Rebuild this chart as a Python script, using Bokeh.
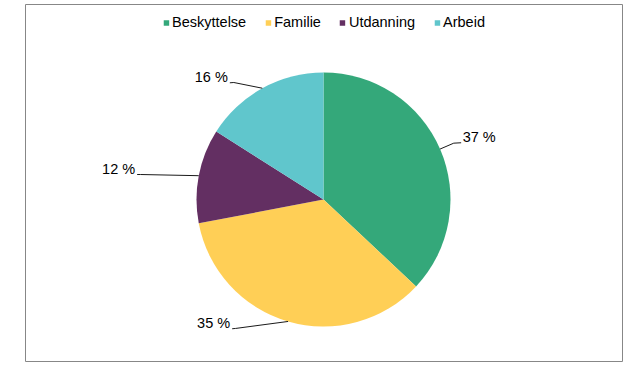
import math
from bokeh.plotting import figure
from bokeh.models import Range1d, ColumnDataSource
from bokeh.core.properties import value
from bokeh.embed import file_html
from bokeh.resources import INLINE

# ---- data ----
categories = ["Beskyttelse", "Familie", "Utdanning", "Arbeid"]
shares = [37, 35, 12, 16]
colors = ["#34A87A", "#FFCF56", "#632F62", "#60C6CC"]

# ---- layout constants (screen px, y down) ----
R = 127
# leader line elbow / end offsets relative to slice edge point
leader_elbow = [(13.7, -5.9), (-52.6, 7.0), (-58.3, -1.2), (-28.5, -5.7)]
leader_end = [(21.1, -6.3), (-55.9, 7.3), (-61.6, -1.2), (-32.5, -5.4)]
LABEL_RAISE = 5.5
FONT = "Liberation Sans"

total = float(sum(shares))
starts, ends, mids = [], [], []
cum = 0.0
for v in shares:
    a0 = cum / total
    cum += v
    a1 = cum / total
    starts.append(math.pi / 2 - 2 * math.pi * a0)
    ends.append(math.pi / 2 - 2 * math.pi * a1)
    mids.append(2 * math.pi * (a0 + a1) / 2)  # clockwise from top

src = ColumnDataSource(dict(name=categories, start=starts, end=ends, color=colors))

p = figure(width=625, height=365,
           x_range=Range1d(-298, 299), y_range=Range1d(-162, 195),
           x_axis_location=None, y_axis_location=None,
           output_backend="svg", toolbar_location=None,
           min_border_left=25, min_border_right=3, min_border_top=4, min_border_bottom=4)
p.grid.visible = False
p.outline_line_color = "#878787"
p.outline_line_width = 1
p.background_fill_color = "white"
p.border_fill_color = "white"

p.wedge(x=0, y=0, radius=R, start_angle="start", end_angle="end", direction="clock",
        fill_color="color", line_color=None, source=src, legend_field="name")

# leader lines and labels
xs, ys = [], []
lx, ly, ltxt, lalign = [], [], [], []
for i, th in enumerate(mids):
    ex, ey = R * math.sin(th), R * math.cos(th)
    bx, by = ex + leader_elbow[i][0], ey - leader_elbow[i][1]
    nx, ny = ex + leader_end[i][0], ey - leader_end[i][1]
    xs.append([ex, bx, nx])
    ys.append([ey, by, ny])
    right = leader_end[i][0] > 0
    lx.append(nx + (1.5 if right else -2.0))
    ly.append(ny + LABEL_RAISE)
    ltxt.append(f"{shares[i]} %")
    lalign.append("left" if right else "right")

p.multi_line(xs=xs, ys=ys, line_color="#1a1a1a", line_width=1)
p.text(x=lx, y=ly, text=ltxt, text_align=lalign, text_baseline="middle",
       text_font=value(FONT), text_font_size="14.5px", text_color="#000000")

lg = p.legend[0]
lg.orientation = "horizontal"
lg.location = "top_center"
lg.glyph_width = 7
lg.glyph_height = 7
lg.label_standoff = 3
lg.spacing = 18
lg.padding = 0
lg.margin = 10
lg.border_line_color = None
lg.background_fill_alpha = 0
lg.label_text_font = FONT
lg.label_text_font_size = "14.5px"
lg.label_text_color = "#000000"

open("out.html", "w").write(file_html(p, INLINE))
